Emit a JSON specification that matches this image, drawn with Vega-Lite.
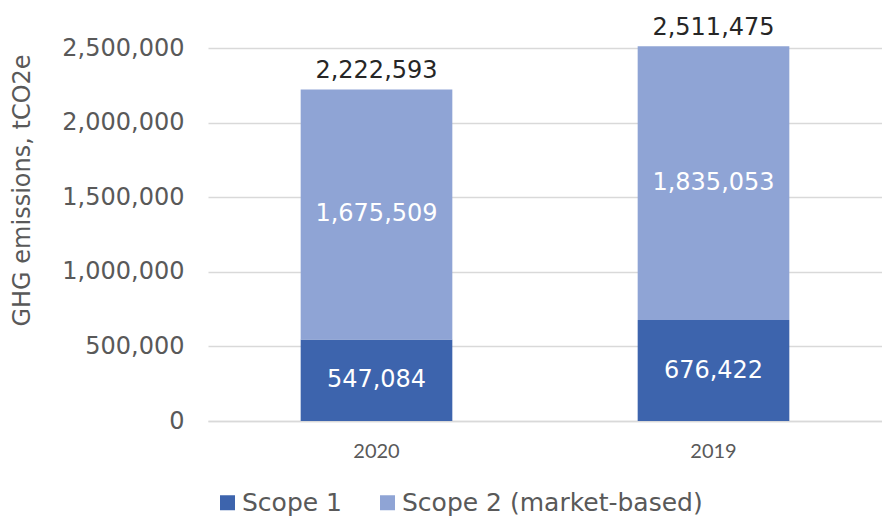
{
  "$schema": "https://vega.github.io/schema/vega-lite/v6.json",
  "width": 674,
  "height": 373,
  "autosize": "none",
  "padding": {"left": 208, "top": 48, "right": 0, "bottom": 98},
  "background": "white",
  "config": {
    "view": {"stroke": null},
    "font": "DejaVu Sans"
  },
  "data": {
    "values": [
      {"year": "2020", "scope": "Scope 1", "value": 547084},
      {"year": "2020", "scope": "Scope 2 (market-based)", "value": 1675509},
      {"year": "2019", "scope": "Scope 1", "value": 676422},
      {"year": "2019", "scope": "Scope 2 (market-based)", "value": 1835053}
    ]
  },
  "encoding": {
    "x": {
      "field": "year",
      "type": "nominal",
      "sort": ["2020", "2019"],
      "scale": {"paddingInner": 0.55, "paddingOuter": 0.275},
      "axis": {
        "title": null,
        "labelAngle": 0,
        "labelFont": "Lato",
        "labelFontSize": 20,
        "labelColor": "#595959",
        "labelPadding": 20,
        "ticks": false,
        "domainColor": "#d9d9d9",
        "domainWidth": 1.5
      }
    }
  },
  "layer": [
    {
      "mark": {"type": "bar"},
      "encoding": {
        "y": {
          "field": "value",
          "type": "quantitative",
          "stack": "zero",
          "scale": {"domain": [0, 2500000], "nice": false},
          "axis": {
            "title": "GHG emissions, tCO2e",
            "titleFontSize": 24,
            "titleFontWeight": "normal",
            "titleColor": "#595959",
            "titleX": -186,
            "titleY": 142,
            "titleBaseline": "middle",
            "values": [0, 500000, 1000000, 1500000, 2000000, 2500000],
            "format": ",.0f",
            "labelFontSize": 24,
            "labelColor": "#595959",
            "labelPadding": 24,
            "ticks": false,
            "domain": false,
            "gridColor": "#d9d9d9",
            "gridWidth": 1.5
          }
        },
        "order": {"field": "scope", "type": "nominal", "sort": "ascending"},
        "color": {
          "field": "scope",
          "type": "nominal",
          "scale": {"domain": ["Scope 1", "Scope 2 (market-based)"], "range": ["#3d64ad", "#8fa4d5"]},
          "legend": {
            "title": null,
            "orient": "none",
            "direction": "horizontal",
            "legendX": 7,
            "legendY": 442,
            "symbolType": "square",
            "symbolSize": 225,
            "symbolStrokeWidth": 0,
            "labelFontSize": 25,
            "labelColor": "#595959",
            "labelOffset": 2,
            "labelLimit": 500,
            "columnPadding": 32
          }
        }
      }
    },
    {
      "transform": [
        {"stack": "value", "groupby": ["year"], "sort": [{"field": "scope"}], "as": ["v0", "v1"]},
        {"calculate": "(datum.v0 + datum.v1) / 2", "as": "mid"}
      ],
      "mark": {"type": "text", "color": "white", "fontSize": 24, "baseline": "middle"},
      "encoding": {
        "y": {"field": "mid", "type": "quantitative"},
        "text": {"field": "value", "type": "quantitative", "format": ","}
      }
    },
    {
      "mark": {"type": "text", "color": "#262626", "fontSize": 24, "baseline": "bottom", "dy": -6},
      "encoding": {
        "y": {"aggregate": "sum", "field": "value", "type": "quantitative"},
        "text": {"aggregate": "sum", "field": "value", "type": "quantitative", "format": ","}
      }
    }
  ]
}
